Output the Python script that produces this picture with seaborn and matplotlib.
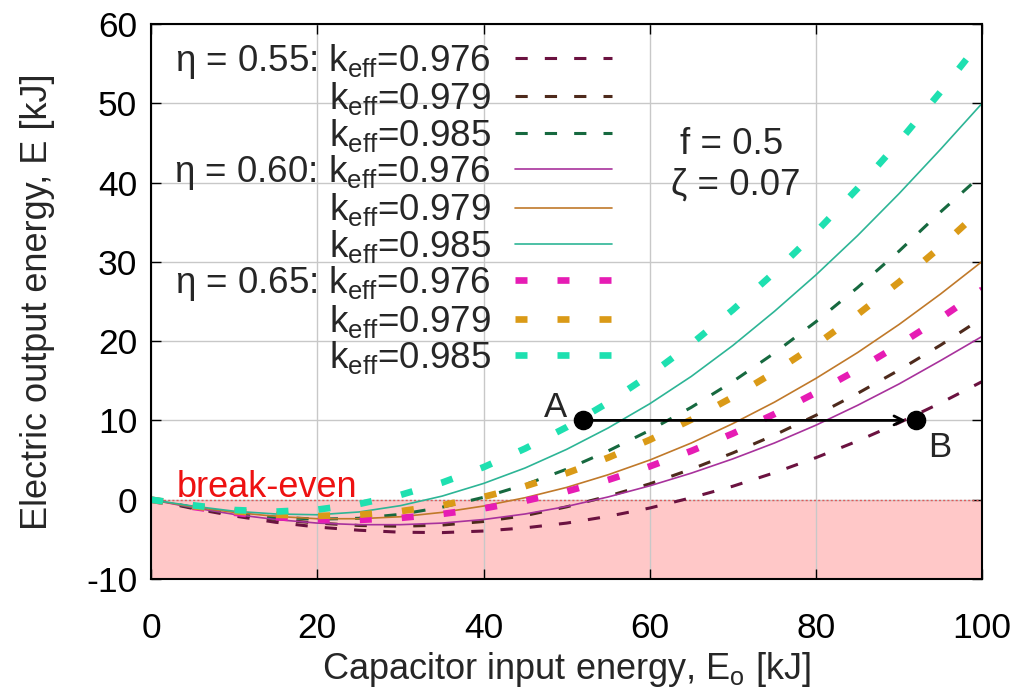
import matplotlib
matplotlib.use("Agg")
import matplotlib.pyplot as plt
import seaborn as sns
import pandas as pd

# ---------------- data ----------------
x_energy = [0, 5, 10, 15, 20, 25, 30, 35, 40, 45, 50,
            55, 60, 65, 70, 75, 80, 85, 90, 95, 100]

e055_k976 = [0, -1.1, -2.05, -2.85, -3.45, -3.85, -4.1, -4.15, -3.95, -3.55, -2.95,
             -2.1, -1.05, 0.25, 1.7, 3.4, 5.3, 7.4, 9.7, 12.2, 14.9]
e055_k979 = [0, -1.0, -1.85, -2.5, -2.95, -3.25, -3.35, -3.2, -2.75, -2.0, -0.9,
             0.45, 2.0, 3.85, 5.9, 8.15, 10.65, 13.4, 16.35, 19.5, 22.9]
e055_k985 = [0, -0.95, -1.7, -2.2, -2.45, -2.35, -1.85, -0.95, 0.3, 1.9, 3.85,
             6.15, 8.75, 11.65, 14.9, 18.5, 22.45, 26.75, 31.35, 36.3, 41.0]
e060_k976 = [0, -1.0, -1.85, -2.5, -2.95, -3.15, -3.15, -2.95, -2.5, -1.8, -0.85,
             0.35, 1.75, 3.35, 5.15, 7.15, 9.4, 11.9, 14.6, 17.55, 20.6]
e060_k979 = [0, -0.9, -1.6, -2.1, -2.4, -2.4, -2.15, -1.6, -0.8, 0.25, 1.55,
             3.15, 5.0, 7.15, 9.6, 12.3, 15.3, 18.55, 22.1, 25.95, 30.05]
e060_k985 = [0, -0.8, -1.45, -1.8, -1.9, -1.55, -0.75, 0.45, 2.05, 4.0, 6.35,
             9.05, 12.1, 15.55, 19.45, 23.75, 28.35, 33.3, 38.6, 44.2, 50.0]
e065_k976 = [0, -0.9, -1.65, -2.2, -2.5, -2.55, -2.3, -1.8, -1.1, -0.15, 1.05,
             2.5, 4.2, 6.15, 8.35, 10.8, 13.5, 16.4, 19.55, 22.9, 26.5]
e065_k979 = [0, -0.8, -1.45, -1.9, -2.05, -1.9, -1.45, -0.7, 0.35, 1.7, 3.35,
             5.3, 7.55, 10.1, 12.95, 16.1, 19.55, 23.35, 27.45, 31.9, 36.7]
e065_k985 = [0, -0.7, -1.3, -1.5, -1.25, -0.55, 0.6, 2.15, 4.1, 6.45, 9.15,
             12.25, 15.75, 19.65, 23.95, 28.65, 33.75, 39.25, 45.15, 51.45, 58.05]

keff = r"$\mathregular{k_{eff}}$"
series_labels = [
    "η = 0.55: " + keff + "=0.976", keff + "=0.979", keff + "=0.985",
    "η = 0.60: " + keff + "=0.976", keff + "=0.979", keff + "=0.985",
    "η = 0.65: " + keff + "=0.976", keff + "=0.979", keff + "=0.985",
]
series_values = [e055_k976, e055_k979, e055_k985,
                 e060_k976, e060_k979, e060_k985,
                 e065_k976, e065_k979, e065_k985]

point_names = ["A", "B"]
point_x = [52, 92]
point_y = [10, 10]

x_ticks = [0, 20, 40, 60, 80, 100]
y_ticks = [-10, 0, 10, 20, 30, 40, 50, 60]

# ---------------- styles ----------------
colors = ["#6b1240", "#4e2a1c", "#16693f",
          "#a8329c", "#c0792a", "#2db596",
          "#e61cb4", "#da9a17", "#1ee0b0"]
thin_dash = (0, (4.0, 5.6))
thick_dash = (0, (1.8, 4.5))
styles = ([dict(lw=2.2, ls=thin_dash)] * 3 + [dict(lw=1.2, ls="-")] * 3
          + [dict(lw=4.8, ls=thick_dash)] * 3)

sns.set_style("ticks")
plt.rcParams["font.family"] = ["Liberation Sans", "DejaVu Sans"]
plt.rcParams["mathtext.fontset"] = "dejavusans"
plt.rcParams["axes.unicode_minus"] = False

fig = plt.figure(figsize=(10.21, 6.93), dpi=100)
ax = fig.add_axes([0.148, 0.1645, 0.814, 0.801])

# break-even shading
ax.axhspan(-10, 0, color="#ffc8c8", zorder=0.2, lw=0)
ax.axhline(0, color="#e05a5a", ls=(0, (1.5, 1.5)), lw=1.0, zorder=0.8)

handles = []
for lab, vals, col, st in zip(series_labels, series_values, colors, styles):
    df = pd.DataFrame({"x": x_energy, "y": vals})
    sns.lineplot(data=df, x="x", y="y", ax=ax, color=col, linewidth=st["lw"],
                 linestyle=st["ls"], zorder=2)
    handles.append(ax.get_lines()[-1])

# points A, B and arrow
sns.scatterplot(x=point_x, y=point_y, ax=ax, s=170, color="black",
                edgecolor="black", zorder=5, legend=False)
ax.annotate("", xy=(point_x[1], point_y[1]), xytext=(point_x[0], point_y[0]),
            arrowprops=dict(arrowstyle="->", color="black", lw=2.0,
                            shrinkA=0, shrinkB=7, mutation_scale=16), zorder=4)
ax.text(point_x[0] - 2, point_y[0] + 0.4, point_names[0], fontsize=25,
        ha="right", va="baseline")
ax.text(point_x[1] + 1.5, point_y[1] - 4.6, point_names[1], fontsize=25,
        ha="left", va="baseline")

ax.text(3.1, 0.35, "break-even", color="#ee1111", fontsize=26, ha="left", va="baseline")
ax.text(69.8, 44.8, "f = 0.5", fontsize=26.5, ha="center", va="center")
ax.text(70.4, 39.7, "ζ = 0.07", fontsize=26.5, ha="center", va="center")

ax.set_xlim(0, 100)
ax.set_ylim(-10, 60)
ax.set_xticks(x_ticks)
ax.set_yticks(y_ticks)
ax.grid(True, color="#c8c8c8", lw=1.0)
ax.set_axisbelow(True)
ax.tick_params(direction="in", length=7, width=1, top=True, right=True,
               labelsize=25.5, colors="black")
ax.tick_params(axis="x", pad=24)
ax.tick_params(axis="y", pad=10)
for sp in ax.spines.values():
    sp.set_linewidth(1.5)
    sp.set_color("black")

ax.set_xlabel(r"Capacitor input energy, $\mathregular{E_o}$ [kJ]", fontsize=26, labelpad=3)
ax.set_ylabel("Electric output energy, E [kJ]", fontsize=26, labelpad=22)

leg = ax.legend(handles, series_labels, loc="upper right",
                bbox_to_anchor=(0.555, 0.968), frameon=False, markerfirst=False,
                fontsize=26.5, handlelength=2.65, handletextpad=0.65,
                labelspacing=-0.015, borderpad=0, borderaxespad=0)

fig.savefig("out.png", dpi=100)
